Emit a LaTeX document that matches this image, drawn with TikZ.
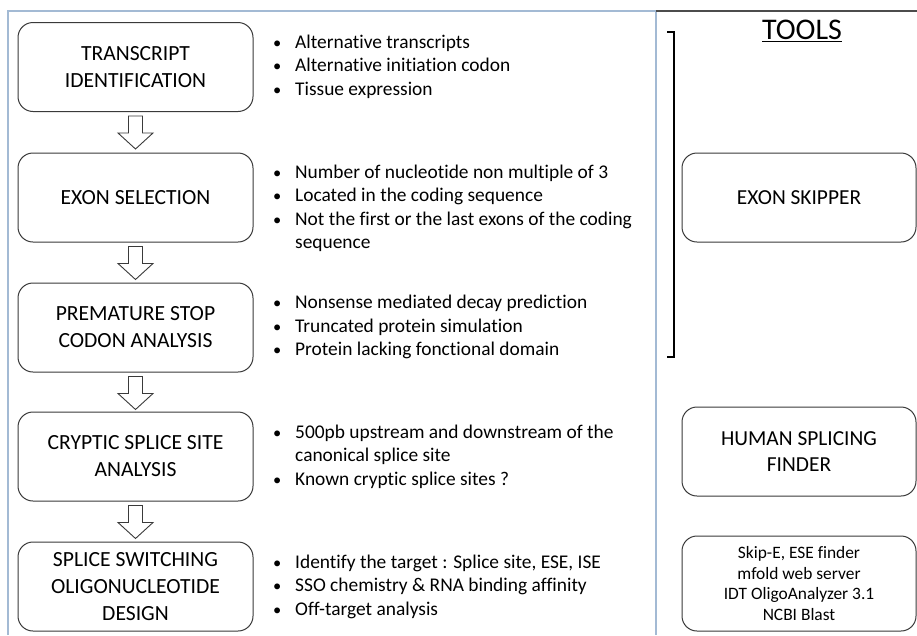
\documentclass[tikz,border=0pt]{standalone}
\usepackage{fontspec}
\setmainfont{Carlito}[Ligatures={CommonOff}]
\usetikzlibrary{calc}
\definecolor{framecol}{HTML}{A3BAD4}
\definecolor{boxcol}{HTML}{3A3A3A}
\newcommand\blt{\makebox[22pt][l]{\scalebox{0.85}{\textbullet}}}
\newcommand\flowarr[2]{\draw[arr] ($(#1.south)+(-7,4)$) -- ++(0,17) -- ++(-10.5,0) -- ++(17.5,16) -- ++(17.5,-16) -- ++(-10.5,0) -- ++(0,-17) -- cycle;}
\begin{document}
\begin{tikzpicture}[x=1pt,y=-1pt,
  stepbox/.style={draw=boxcol, line width=1pt, rounded corners=15pt, minimum width=235pt, minimum height=89pt, align=center, inner sep=2pt, font=\fontsize{21.6}{27}\selectfont},
  toolbox/.style={draw=boxcol, line width=1pt, rounded corners=15pt, minimum width=234pt, align=center, inner sep=2pt},
  bul/.style={anchor=west, align=left, inner sep=0pt, font=\fontsize{19.4}{23.5}\selectfont},
  arr/.style={draw=boxcol, line width=0.9pt, fill=white, line join=miter},
  frame/.style={draw=framecol, line width=1.3pt}]
\useasboundingbox (0,0) rectangle (917,635);
\fill[white] (0,0) rectangle (917,635);
% frame
\draw[frame] (8,635) -- (8,11) -- (656,11);
\draw[frame] (656,11) -- (656,635);
\draw[draw=black!70, line width=1.3pt] (656,11) -- (917,11);
% steps
\node[stepbox] (t1) at (135.5,67) {TRANSCRIPT\\IDENTIFICATION};
\node[stepbox] (t2) at (135.5,197.5) {EXON SELECTION};
\node[stepbox] (t3) at (135.5,327.5) {PREMATURE STOP\\CODON ANALYSIS};
\node[stepbox] (t4) at (135.5,456.5) {CRYPTIC SPLICE SITE\\ANALYSIS};
\node[stepbox] (t5) at (135.5,586.5) {SPLICE SWITCHING\\OLIGONUCLEOTIDE\\DESIGN};
\flowarr{t1}{t2}
\flowarr{t2}{t3}
\flowarr{t3}{t4}
\flowarr{t4}{t5}
% bullets
\node[bul] (b1) at (273,66.5) {\blt Alternative transcripts\\ \blt Alternative initiation codon\\ \blt Tissue expression};
\node[bul] (b2) at (273,208.5) {\blt Number of nucleotide non multiple of 3\\ \blt Located in the coding sequence\\ \blt Not the first or the last exons of the coding\\ \hspace*{22pt}sequence};
\node[bul] (b3) at (273,327) {\blt Nonsense mediated decay prediction\\ \blt Truncated protein simulation\\ \blt Protein lacking fonctional domain};
\node[bul] (b4) at (273,456.5) {\blt 500pb upstream and downstream of the\\ \hspace*{22pt}canonical splice site\\ \blt Known cryptic splice sites ?};
\node[bul] (b5) at (273,586.5) {\blt Identify the target : Splice site, ESE, ISE\\ \blt SSO chemistry \& RNA binding affinity\\ \blt Off-target analysis};
% tools
\node[font=\fontsize{30}{33}\selectfont, inner sep=0pt] (tools) at (802,31) {\underline{TOOLS}};
\draw[line width=2pt] (667,32) -- (674,32) -- (674,357) -- (667,357);
\node[toolbox, minimum height=89pt, font=\fontsize{21.4}{26}\selectfont] (s1) at (799,197.5) {EXON SKIPPER};
\node[toolbox, minimum height=89pt, font=\fontsize{21.4}{26.5}\selectfont] (s2) at (799,451.5) {HUMAN SPLICING\\FINDER};
\node[toolbox, minimum height=95pt, font=\fontsize{17.4}{20.7}\selectfont] (s3) at (799,583.5) {Skip-E, ESE finder\\mfold web server\\IDT OligoAnalyzer 3.1\\NCBI Blast};
\end{tikzpicture}
\end{document}
